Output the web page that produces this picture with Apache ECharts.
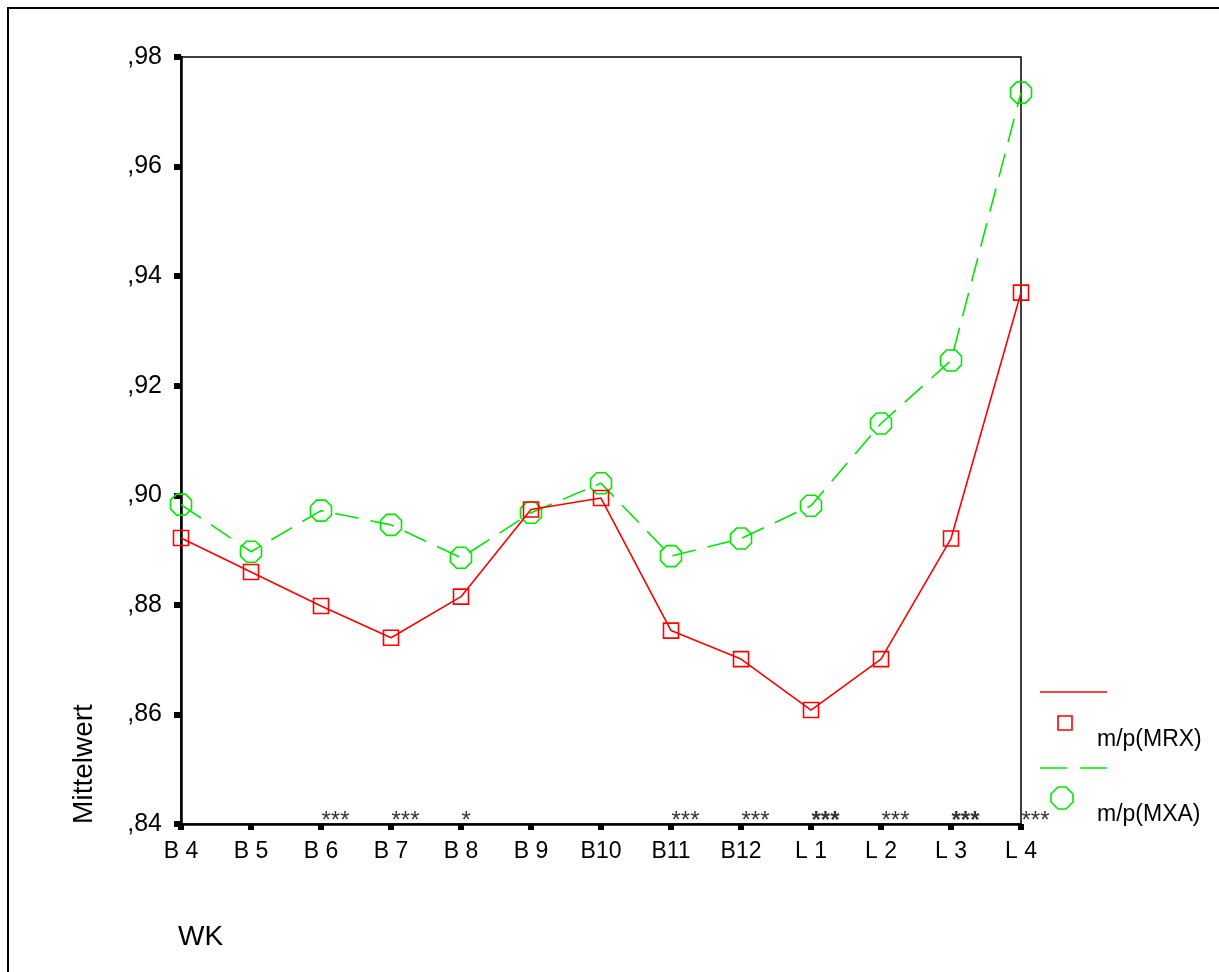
<!DOCTYPE html>
<html>
<head>
<meta charset="utf-8">
<script src="https://cdn.jsdelivr.net/npm/echarts@6/dist/echarts.min.js"></script>
<style>
html,body{margin:0;padding:0;background:#fff;}
#container{width:1219px;height:972px;}
</style>
</head>
<body>
<div id="container"></div>
<script>
// Kategorien (WK)
var weeks = ['B 4','B 5','B 6','B 7','B 8','B 9','B10','B11','B12','L 1','L 2','L 3','L 4'];
// Mittelwerte
var mrx = [0.8922,0.8860,0.8798,0.8740,0.8815,0.8974,0.8995,0.8753,0.8701,0.8608,0.8701,0.8921,0.9370];
var mxa = [0.8983,0.8897,0.8972,0.8946,0.8886,0.8968,0.9022,0.8889,0.8921,0.8981,0.9131,0.9246,0.9735];
// Signifikanz-Sterne unter den Punkten
var sig = ['','','***','***','*','','','***','***','***','***','***','***'];
var sigBold = [0,0,0,0,0,0,0,0,0,1,0,1,0];

var yTicks = {min:0.84, max:0.98, step:0.02};

var octagon = 'path://M29,0 L71,0 L100,29 L100,71 L71,100 L29,100 L0,71 L0,29 Z';
var RED = '#ff0000', GREEN = '#00e800';
var FONT = 'Liberation Sans';

window.onload = function(){
	var myChart = echarts.init(document.getElementById('container'));
	var sigData = [];
	for (var i = 0; i < weeks.length; i++) {
		sigData.push({
			value: yTicks.min,
			sig: sig[i],
			label: {fontWeight: sigBold[i] ? 'bold' : 'normal'}
		});
	}
	myChart.setOption({
		animation: false,
		backgroundColor: '#fff',
		grid: {
			left: 181, right: 198, top: 57, bottom: 148,
			show: true, borderColor: '#000', borderWidth: 1.5, backgroundColor: 'transparent'
		},
		xAxis: {
			type: 'category',
			data: weeks,
			boundaryGap: false,
			axisLine: {lineStyle: {color: '#000', width: 2.5}},
			axisTick: {show: true, length: 6, lineStyle: {color: '#000', width: 6}},
			axisLabel: {color: '#000', fontFamily: FONT, fontSize: 23, margin: 16}
		},
		yAxis: {
			type: 'value',
			min: yTicks.min, max: yTicks.max, interval: yTicks.step,
			splitLine: {show: false},
			axisLine: {show: true, lineStyle: {color: '#000', width: 2.5}},
			axisTick: {show: true, length: 7, lineStyle: {color: '#000', width: 6}},
			axisLabel: {
				color: '#000', fontFamily: FONT, fontSize: 25, margin: 19,
				formatter: function(v){ return ',' + Math.round(v * 100); }
			}
		},
		series: [{
			type: 'line',
			name: 'm/p(MRX)',
			data: mrx,
			symbol: 'rect',
			symbolSize: 15,
			lineStyle: {color: RED, width: 1.6},
			itemStyle: {color: 'rgba(0,0,0,0)', borderColor: RED, borderWidth: 1.6},
			z: 3
		}, {
			type: 'line',
			name: 'm/p(MXA)',
			data: mxa,
			symbol: octagon,
			symbolSize: [21, 21],
			lineStyle: {color: GREEN, width: 1.6, type: [24, 12]},
			itemStyle: {color: 'rgba(0,0,0,0)', borderColor: GREEN, borderWidth: 1.6},
			z: 2
		}, {
			type: 'scatter',
			data: sigData,
			symbolSize: 1,
			itemStyle: {color: 'rgba(0,0,0,0)'},
			label: {
				show: true,
				position: [1, -14],
				align: 'left',
				verticalAlign: 'top',
				fontFamily: FONT,
				fontSize: 24,
				color: '#000',
				formatter: function(p){ return p.data.sig; }
			},
			z: 4
		}],
		graphic: [
			{type: 'rect', shape: {x: 8, y: 8, width: 1240, height: 1000}, style: {fill: 'none', stroke: '#000', lineWidth: 2}},
			{type: 'text', x: 84, y: 764, rotation: Math.PI / 2, style: {text: 'Mittelwert', font: '28px "Liberation Sans"', fill: '#000', align: 'center', verticalAlign: 'middle'}},
			{type: 'text', x: 178, y: 937, style: {text: 'WK', font: '28px "Liberation Sans"', fill: '#000', align: 'left', verticalAlign: 'middle'}},
			{type: 'line', shape: {x1: 1040, y1: 692, x2: 1107, y2: 692}, style: {stroke: RED, lineWidth: 1.6}},
			{type: 'rect', shape: {x: 1058, y: 716, width: 14, height: 14}, style: {fill: 'none', stroke: RED, lineWidth: 1.6}},
			{type: 'text', x: 1097, y: 740, style: {text: 'm/p(MRX)', font: '23px "Liberation Sans"', fill: '#000', align: 'left', verticalAlign: 'middle'}},
			{type: 'line', shape: {x1: 1040, y1: 768, x2: 1107, y2: 768}, style: {stroke: GREEN, lineWidth: 1.6, lineDash: [27, 13]}},
			{type: 'polygon', shape: {points: [[1058,787],[1066,787],[1073,794],[1073,802],[1066,809],[1058,809],[1051,802],[1051,794]]}, style: {fill: 'none', stroke: GREEN, lineWidth: 1.6}},
			{type: 'text', x: 1097, y: 815, style: {text: 'm/p(MXA)', font: '23px "Liberation Sans"', fill: '#000', align: 'left', verticalAlign: 'middle'}}
		]
	});
};
</script>
</body>
</html>
